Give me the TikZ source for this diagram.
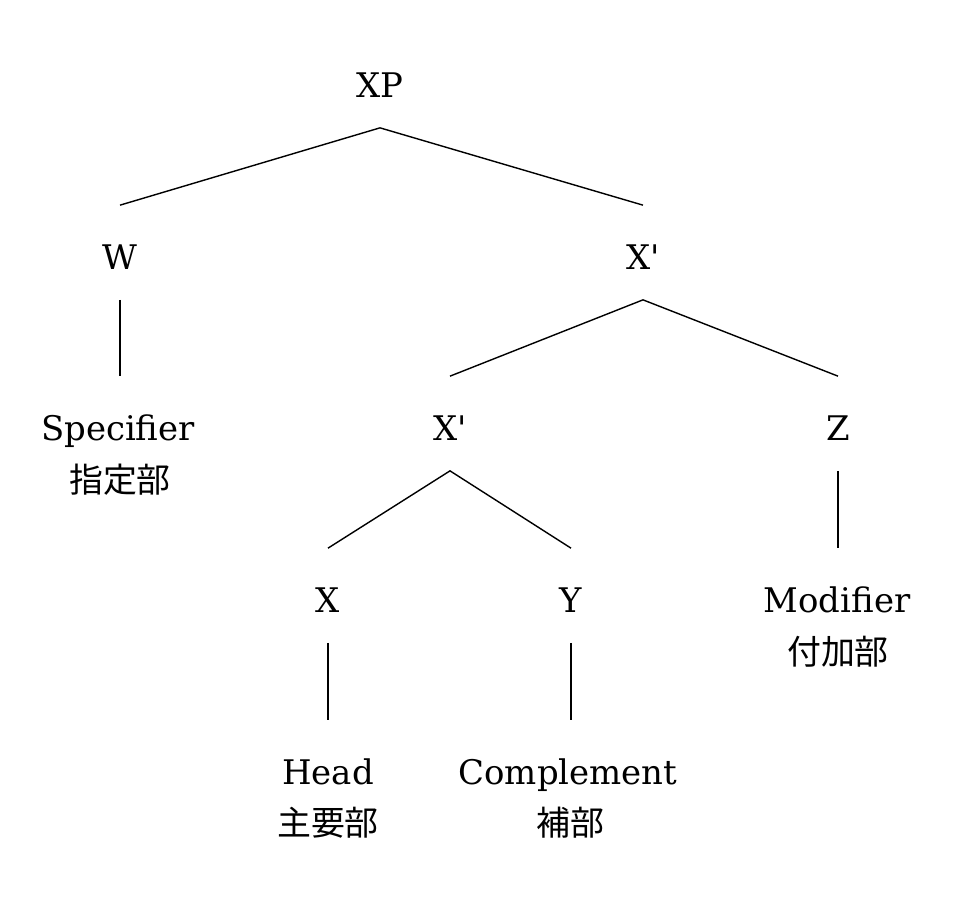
\documentclass[tikz,border=0pt]{standalone}
\usepackage{fontspec}
\setmainfont{DejaVu Serif}
\newfontfamily\jafont{Noto Sans CJK JP}
\begin{document}
\begin{tikzpicture}[x=0.02cm,y=-0.02cm,font=\fontsize{19.3}{23}\selectfont]
  \tikzset{
    cat/.style={inner sep=0pt,anchor=base,text height=1.27cm,
      text depth=0.61cm},
    gloss/.style={inner sep=0pt,font=\fontsize{19.3}{23}\selectfont\jafont},
    branch/.style={line width=0.8pt}
  }
  \useasboundingbox (0,0) rectangle (960,899);

  % categories (placed on their baselines)
  \node[cat] (xp) at (380,97) {XP};
  \node[cat] (w) at (120,269) {W};
  \node[cat] (xbar) at (643,269) {X\textquotesingle};
  \node[cat] (spec) at (118,440) {Specifier};
  \node[cat] (xbarlow) at (450,440) {X\textquotesingle};
  \node[cat] (z) at (838,440) {Z};
  \node[cat] (x) at (328,612) {X};
  \node[cat] (y) at (571,612) {Y};
  \node[cat] (mod) at (837,612) {Modifier};
  \node[cat] (head) at (328,784) {Head};
  \node[cat] (comp) at (568,784) {Complement};

  % glosses
  \node[gloss] (spec-ja) at (120,480) {指定部};
  \node[gloss] (mod-ja) at (838,652) {付加部};
  \node[gloss] (head-ja) at (328,823) {主要部};
  \node[gloss] (comp-ja) at (570,823) {補部};

  \draw[branch] (w.north) -- (xp.south) -- (xbar.north);
  \draw[branch] (w.south) -- (w.south |- spec.north);
  \draw[branch] (xbarlow.north) -- (xbar.south) -- (z.north);
  \draw[branch] (x.north) -- (xbarlow.south) -- (y.north);
  \draw[branch] (z.south) -- (z.south |- mod.north);
  \draw[branch] (x.south) -- (x.south |- head.north);
  \draw[branch] (y.south) -- (y.south |- comp.north);
\end{tikzpicture}
\end{document}
